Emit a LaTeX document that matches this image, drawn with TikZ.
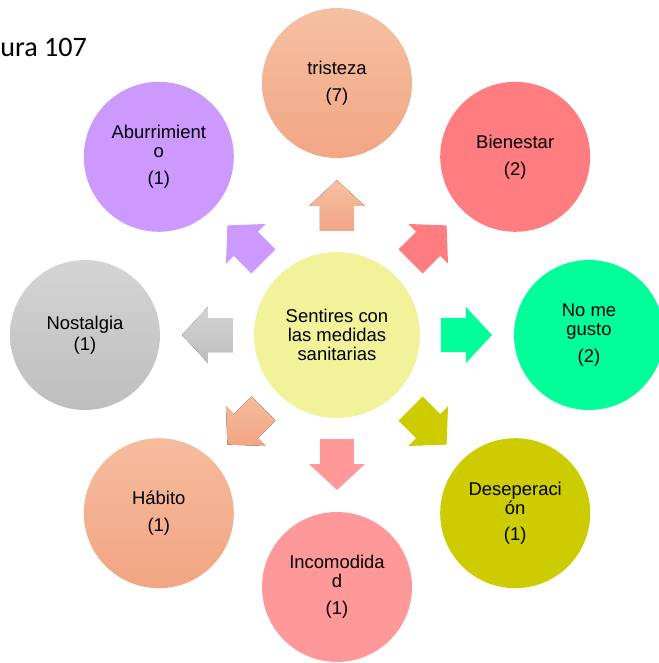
\documentclass[tikz,border=0pt]{standalone}
\usepackage{fontspec}
\setmainfont{Liberation Sans}
\newfontfamily\capfont{Carlito}
\usetikzlibrary{calc}
\definecolor{triT}{HTML}{F5C0A2}
\definecolor{triB}{HTML}{F2A684}
\definecolor{bien}{HTML}{FF7C80}
\definecolor{gus}{HTML}{00FF99}
\definecolor{des}{HTML}{CCCC00}
\definecolor{inc}{HTML}{FF9999}
\definecolor{habT}{HTML}{F5BC9E}
\definecolor{habB}{HTML}{F2A582}
\definecolor{nosT}{HTML}{D4D4D4}
\definecolor{nosB}{HTML}{BEBEBE}
\definecolor{abu}{HTML}{CC99FF}
\definecolor{sent}{HTML}{F2F29B}

\begin{document}
\begin{tikzpicture}[x=0.02cm, y=0.02cm,
  font=\fontsize{10.5}{10.8}\selectfont,
  emo/.style={circle, minimum size=3cm, inner sep=0pt, align=center, text=black},
  fTri/.style={top color=triT, bottom color=triB},
  fBien/.style={fill=bien},
  fGus/.style={fill=gus},
  fDes/.style={fill=des},
  fInc/.style={fill=inc},
  fHab/.style={top color=habT, bottom color=habB},
  fNos/.style={top color=nosT, bottom color=nosB},
  fAbu/.style={fill=abu}]
\useasboundingbox (-337,-328) rectangle (322,335);
\node[font=\capfont\fontsize{16}{16}\selectfont, anchor=base west, inner sep=0pt] (fig) at (-337,278) {ura 107};
\node[emo, minimum size=3.32cm, fill=sent] (sent) at (0,0) {Sentires con\\las medidas\\sanitarias};
\node[emo, fTri] (tri) at (90:252) {tristeza\\[4.5pt](7)};
\node[emo, fBien] (bien) at (45:252) {Bienestar\\[4.5pt](2)};
\node[emo, fGus] (gus) at (0:252) {No me\\gusto\\[4.5pt](2)};
\node[emo, fDes] (des) at (-45:252) {Deseperaci\\ón\\[4.5pt](1)};
\node[emo, fInc] (inc) at (-90:252) {Incomodida\\d\\[4.5pt](1)};
\node[emo, fHab] (hab) at (-135:252) {Hábito\\[4.5pt](1)};
\node[emo, fNos] (nos) at (180:252) {Nostalgia\\[1pt](1)};
\node[emo, fAbu] (abu) at (135:252) {Aburrimient\\o\\[4.5pt](1)};
% block arrows from the centre outwards
\foreach \ang/\st in {90/fTri, 45/fBien, 0/fGus, -45/fDes, -90/fInc, -135/fHab, 180/fNos, 135/fAbu}
  \fill[\st, shift={(sent.center)}, rotate=\ang]
    (104,-17) -- (129,-17) -- (129,-28) -- (155,0) -- (129,28) -- (129,17) -- (104,17) -- cycle;
\end{tikzpicture}
\end{document}
